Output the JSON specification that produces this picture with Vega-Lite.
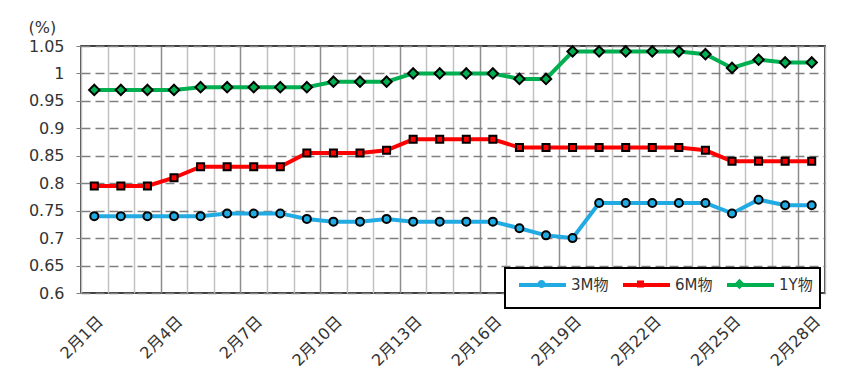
{
  "$schema": "https://vega.github.io/schema/vega-lite/v6.json",
  "width": 744,
  "height": 247,
  "autosize": {"type": "none"},
  "padding": {"left": 81, "top": 46, "right": 29, "bottom": 94},
  "background": "white",
  "config": {
    "view": {"stroke": "#000000", "strokeWidth": 1.5},
    "font": "DejaVu Sans",
    "axis": {"labelFont": "DejaVu Sans, Noto Sans CJK JP", "labelColor": "#333333", "domain": false}
  },
  "data": {
    "values": [
      {"day": 1, "series": "3M物", "rate": 0.74}, {"day": 2, "series": "3M物", "rate": 0.74}, {"day": 3, "series": "3M物", "rate": 0.74}, {"day": 4, "series": "3M物", "rate": 0.74},
      {"day": 5, "series": "3M物", "rate": 0.74}, {"day": 6, "series": "3M物", "rate": 0.745}, {"day": 7, "series": "3M物", "rate": 0.745}, {"day": 8, "series": "3M物", "rate": 0.745},
      {"day": 9, "series": "3M物", "rate": 0.735}, {"day": 10, "series": "3M物", "rate": 0.73}, {"day": 11, "series": "3M物", "rate": 0.73}, {"day": 12, "series": "3M物", "rate": 0.735},
      {"day": 13, "series": "3M物", "rate": 0.73}, {"day": 14, "series": "3M物", "rate": 0.73}, {"day": 15, "series": "3M物", "rate": 0.73}, {"day": 16, "series": "3M物", "rate": 0.73},
      {"day": 17, "series": "3M物", "rate": 0.718}, {"day": 18, "series": "3M物", "rate": 0.705}, {"day": 19, "series": "3M物", "rate": 0.7}, {"day": 20, "series": "3M物", "rate": 0.764},
      {"day": 21, "series": "3M物", "rate": 0.764}, {"day": 22, "series": "3M物", "rate": 0.764}, {"day": 23, "series": "3M物", "rate": 0.764}, {"day": 24, "series": "3M物", "rate": 0.764},
      {"day": 25, "series": "3M物", "rate": 0.745}, {"day": 26, "series": "3M物", "rate": 0.77}, {"day": 27, "series": "3M物", "rate": 0.76}, {"day": 28, "series": "3M物", "rate": 0.76},
      {"day": 1, "series": "6M物", "rate": 0.795}, {"day": 2, "series": "6M物", "rate": 0.795}, {"day": 3, "series": "6M物", "rate": 0.795}, {"day": 4, "series": "6M物", "rate": 0.81},
      {"day": 5, "series": "6M物", "rate": 0.83}, {"day": 6, "series": "6M物", "rate": 0.83}, {"day": 7, "series": "6M物", "rate": 0.83}, {"day": 8, "series": "6M物", "rate": 0.83},
      {"day": 9, "series": "6M物", "rate": 0.855}, {"day": 10, "series": "6M物", "rate": 0.855}, {"day": 11, "series": "6M物", "rate": 0.855}, {"day": 12, "series": "6M物", "rate": 0.86},
      {"day": 13, "series": "6M物", "rate": 0.88}, {"day": 14, "series": "6M物", "rate": 0.88}, {"day": 15, "series": "6M物", "rate": 0.88}, {"day": 16, "series": "6M物", "rate": 0.88},
      {"day": 17, "series": "6M物", "rate": 0.865}, {"day": 18, "series": "6M物", "rate": 0.865}, {"day": 19, "series": "6M物", "rate": 0.865}, {"day": 20, "series": "6M物", "rate": 0.865},
      {"day": 21, "series": "6M物", "rate": 0.865}, {"day": 22, "series": "6M物", "rate": 0.865}, {"day": 23, "series": "6M物", "rate": 0.865}, {"day": 24, "series": "6M物", "rate": 0.86},
      {"day": 25, "series": "6M物", "rate": 0.84}, {"day": 26, "series": "6M物", "rate": 0.84}, {"day": 27, "series": "6M物", "rate": 0.84}, {"day": 28, "series": "6M物", "rate": 0.84},
      {"day": 1, "series": "1Y物", "rate": 0.97}, {"day": 2, "series": "1Y物", "rate": 0.97}, {"day": 3, "series": "1Y物", "rate": 0.97}, {"day": 4, "series": "1Y物", "rate": 0.97},
      {"day": 5, "series": "1Y物", "rate": 0.975}, {"day": 6, "series": "1Y物", "rate": 0.975}, {"day": 7, "series": "1Y物", "rate": 0.975}, {"day": 8, "series": "1Y物", "rate": 0.975},
      {"day": 9, "series": "1Y物", "rate": 0.975}, {"day": 10, "series": "1Y物", "rate": 0.985}, {"day": 11, "series": "1Y物", "rate": 0.985}, {"day": 12, "series": "1Y物", "rate": 0.985},
      {"day": 13, "series": "1Y物", "rate": 1.0}, {"day": 14, "series": "1Y物", "rate": 1.0}, {"day": 15, "series": "1Y物", "rate": 1.0}, {"day": 16, "series": "1Y物", "rate": 1.0},
      {"day": 17, "series": "1Y物", "rate": 0.99}, {"day": 18, "series": "1Y物", "rate": 0.99}, {"day": 19, "series": "1Y物", "rate": 1.04}, {"day": 20, "series": "1Y物", "rate": 1.04},
      {"day": 21, "series": "1Y物", "rate": 1.04}, {"day": 22, "series": "1Y物", "rate": 1.04}, {"day": 23, "series": "1Y物", "rate": 1.04}, {"day": 24, "series": "1Y物", "rate": 1.035},
      {"day": 25, "series": "1Y物", "rate": 1.01}, {"day": 26, "series": "1Y物", "rate": 1.025}, {"day": 27, "series": "1Y物", "rate": 1.02}, {"day": 28, "series": "1Y物", "rate": 1.02}
    ]
  },
  "encoding": {
    "x": {
      "field": "day",
      "type": "ordinal",
      "scale": {"paddingInner": 0, "paddingOuter": 0},
      "axis": {
        "title": null,
        "labelAngle": -45,
        "labelFontSize": 16,
        "labelPadding": 20,
        "labelOverlap": false,
        "labelExpr": "(datum.value - 1) % 3 === 0 ? '2月' + datum.value + '日' : ''",
        "ticks": false,
        "tickBand": "extent",
        "grid": true,
        "gridWidth": 1.5,
        "gridColor": {"condition": {"test": "datum.value % 3 === 0", "value": "#8c8c8c"}, "value": "#c2c2c2"}
      }
    },
    "y": {
      "field": "rate",
      "type": "quantitative",
      "scale": {"domain": [0.6, 1.05], "nice": false, "zero": false},
      "axis": {
        "values": [0.6, 0.65, 0.7, 0.75, 0.8, 0.85, 0.9, 0.95, 1, 1.05],
        "format": ".2~f",
        "labelFontSize": 16,
        "labelPadding": 12,
        "tickSize": 5,
        "tickColor": "#808080",
        "gridColor": "#808080",
        "gridDash": [9, 5],
        "gridWidth": 1.5,
        "title": "(%)",
        "titleAngle": 0,
        "titleAlign": "left",
        "titleBaseline": "middle",
        "titleX": -53,
        "titleY": -19,
        "titleFontSize": 16,
        "titleFontWeight": "normal",
        "titleColor": "#333333",
        "titleFont": "DejaVu Sans"
      }
    }
  },
  "layer": [
    {
      "mark": {"type": "line", "strokeWidth": 4},
      "encoding": {
        "color": {
          "field": "series",
          "type": "nominal",
          "sort": ["3M物", "6M物", "1Y物"],
          "scale": {"range": ["#22ABE2", "#FF0000", "#00B050"]},
          "legend": {
            "title": null,
            "orient": "none",
            "legendX": 424,
            "legendY": 222,
            "direction": "horizontal",
            "columns": 3,
            "gridAlign": "all",
            "symbolType": "M-1,-1M-1,1M-0.375,0H5.5",
            "symbolSize": 256,
            "symbolStrokeWidth": 4,
            "labelFont": "DejaVu Sans, Noto Sans CJK JP",
            "labelFontSize": 15,
            "labelColor": "#333333",
            "labelOffset": 39,
            "columnPadding": 1,
            "padding": 7,
            "strokeColor": "#000000",
            "fillColor": "#ffffff",
            "encode": {"legend": {"update": {"strokeWidth": {"value": 2}}}}
          }
        }
      }
    },
    {
      "mark": {"type": "point", "filled": true, "opacity": 1, "stroke": "#000000", "strokeWidth": 2, "size": 256},
      "encoding": {
        "fill": {
          "field": "series",
          "type": "nominal",
          "scale": {"domain": ["3M物", "6M物", "1Y物"], "range": ["#22ABE2", "#FF0000", "#00B050"]},
          "legend": {
            "title": null,
            "orient": "none",
            "legendX": 424,
            "legendY": 222,
            "direction": "horizontal",
            "columns": 3,
            "gridAlign": "all",
            "symbolSize": 256,
            "symbolOffset": 20.5,
            "symbolStrokeColor": "#000000",
            "symbolStrokeWidth": 2,
            "symbolOpacity": 1,
            "labelFont": "DejaVu Sans, Noto Sans CJK JP",
            "labelFontSize": 15,
            "labelColor": "transparent",
            "labelOffset": 18.5,
            "columnPadding": 1,
            "padding": 7
          }
        },
        "shape": {
          "field": "series",
          "type": "nominal",
          "scale": {"domain": ["3M物", "6M物", "1Y物"], "range": [
            "M-3.5625,-1M-3.5625,1M0.5,0A0.5,0.5,0,1,1,-0.5,0A0.5,0.5,0,1,1,0.5,0Z",
            "M-3.5625,-1M-3.5625,1M-0.44,-0.44H0.44V0.44H-0.44Z",
            "M-3.5625,-1M-3.5625,1M0,-0.65L0.65,0L0,0.65L-0.65,0Z"
          ]},
          "legend": {
            "title": null,
            "orient": "none",
            "legendX": 424,
            "legendY": 222,
            "direction": "horizontal",
            "columns": 3,
            "gridAlign": "all",
            "symbolSize": 256,
            "symbolOffset": 20.5,
            "symbolStrokeColor": "#000000",
            "symbolStrokeWidth": 2,
            "symbolOpacity": 1,
            "labelFont": "DejaVu Sans, Noto Sans CJK JP",
            "labelFontSize": 15,
            "labelColor": "transparent",
            "labelOffset": 18.5,
            "columnPadding": 1,
            "padding": 7
          }
        }
      }
    }
  ]
}
